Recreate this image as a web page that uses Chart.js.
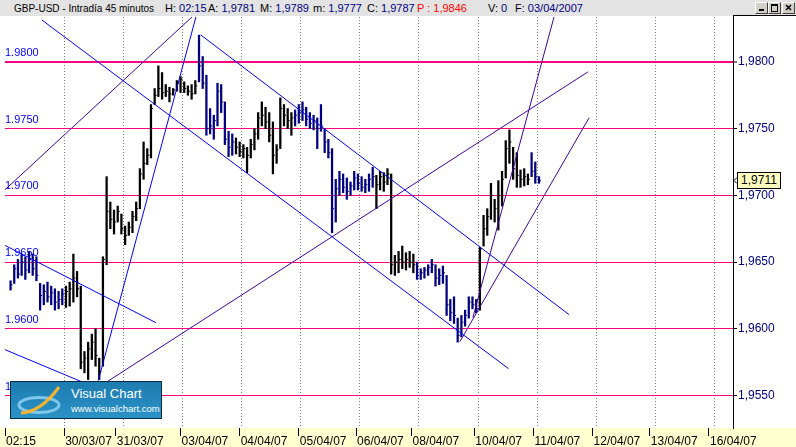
<!DOCTYPE html>
<html>
<head>
<meta charset="utf-8">
<script src="https://cdn.jsdelivr.net/npm/chart.js@4.4.0/dist/chart.umd.min.js"></script>
<style>
  body { margin: 0; background: #fff; }
  #wrap { position: relative; width: 796px; height: 447px; overflow: hidden; font-family: Arial, "Liberation Sans", sans-serif; }
  #titlebar { position: absolute; left: 0; top: 0; width: 796px; height: 16px; background: #e3e3e3; font-size: 11px; }
  #titlebar span { position: absolute; top: 2px; white-space: nowrap; color: #000; }
  #titlebar b { font-weight: normal; color: #000080; }
  #titlebar .red, #titlebar .red b { color: #ff0000; }
  .btn { position: absolute; top: 2px; width: 11px; height: 10px; border: 1px solid; border-color: #fff #404040 #404040 #fff; background: #d4d0c8; }
  #axisTop { position: absolute; left: 733px; top: 15px; width: 63px; height: 1px; background: #000; }
  #axisTopL { position: absolute; left: 733px; top: 15px; width: 1px; height: 3px; background: #000; }
  #logo { position: absolute; left: 10px; top: 381px; width: 150px; height: 36px; border: 1px solid #0b2c44;
          background: linear-gradient(to bottom, #1d7cb0, #2b92c6); color: #fff; }
  #logo .t1 { position: absolute; left: 60px; top: 4px; font-size: 13px; }
  #logo .t2 { position: absolute; left: 60px; top: 21px; font-size: 9.5px; }
  #lastPrice { position: absolute; left: 737px; top: 172px; width: 42px; height: 15px; line-height: 15px; border: 1px solid #000;
               background: #ffffc0; font-size: 12px; text-align: center; color: #000; }
</style>
</head>
<body>
<div id="wrap">
  <canvas id="chart" width="796" height="447"></canvas>
  <div id="titlebar">
    <span style="left:14px;font-size:10px;top:2.5px">GBP-USD - Intradía 45 minutos</span>
    <span style="left:165px">H: <b>02:15</b></span>
    <span style="left:208px">A: <b>1,9781</b></span>
    <span style="left:260px">M: <b>1,9789</b></span>
    <span style="left:313px">m: <b>1,9777</b></span>
    <span style="left:367px">C: <b>1,9787</b></span>
    <span class="red" style="left:417px">P : <b>1,9846</b></span>
    <span style="left:488px">V: <b>0</b></span>
    <span style="left:515px">F: <b>03/04/2007</b></span>
    <div class="btn" style="left:755px"><div style="position:absolute;left:3px;top:6px;width:5px;height:2px;background:#000"></div></div>
    <div class="btn" style="left:768px"><div style="position:absolute;left:2px;top:1px;width:5px;height:5px;border:1px solid #000;border-top-width:2px"></div></div>
    <div class="btn" style="left:782px"><svg width="11" height="10" style="position:absolute;left:0;top:0"><path d="M3 2 L8 7 M8 2 L3 7" stroke="#000" stroke-width="1.5"/></svg></div>
  </div>
  <div id="axisTop"></div>
  <div id="axisTopL"></div>
  <div id="logo">
    <svg width="58" height="36" style="position:absolute;left:0;top:0">
      <ellipse cx="28" cy="23" rx="20" ry="7.5" fill="none" stroke="#8fd0f4" stroke-width="3" opacity="0.85"/>
      <path d="M10 31 Q30 30 48 5" fill="none" stroke="#f2b431" stroke-width="3"/>
    </svg>
    <div class="t1">Visual Chart</div>
    <div class="t2">www.visualchart.com</div>
  </div>
  <svg width="5" height="7" style="position:absolute;left:733px;top:177px"><path d="M4 0.5 L1 3.5 L4 6.5" fill="none" stroke="#000" stroke-width="1"/></svg>
  <div id="lastPrice">1,9711</div>
</div>
<script>
// GBP-USD 45 min bars, one every other slot
const highs = [
  1.9636, 1.9648, 1.9652, 1.9656, 1.9654, 1.9658, 1.9656, 1.9654, 1.9634, 1.9633,
  1.9635, 1.9632, 1.9630, 1.9628, 1.9630, 1.9632, 1.9635, 1.9656, 1.9643, 1.9632,
  1.9583, 1.9590, 1.9596, 1.9600, 1.9578, 1.9654, 1.9714, 1.9695, 1.9689, 1.9692,
  1.9686, 1.9677, 1.9680, 1.9688, 1.9695, 1.9720, 1.9740, 1.9735, 1.9768, 1.9780,
  1.9797, 1.9792, 1.9783, 1.9781, 1.9780, 1.9786, 1.9789, 1.9785, 1.9782, 1.9783,
  1.9786, 1.9820, 1.9804, 1.9790, 1.9765, 1.9760, 1.9784, 1.9783, 1.9770, 1.9748,
  1.9746, 1.9743, 1.9740, 1.9738, 1.9736, 1.9742, 1.9750, 1.9762, 1.9770, 1.9766,
  1.9762, 1.9755, 1.9738, 1.9773, 1.9768, 1.9765, 1.9762, 1.9764, 1.9768, 1.9770,
  1.9766, 1.9762, 1.9760, 1.9758, 1.9768, 1.9750, 1.9742, 1.9735, 1.9712, 1.9718,
  1.9716, 1.9713, 1.9710, 1.9718, 1.9716, 1.9714, 1.9712, 1.9716, 1.9721, 1.9715,
  1.9718, 1.9717, 1.9720, 1.9716, 1.9655, 1.9658, 1.9662, 1.9657, 1.9658, 1.9656,
  1.9650, 1.9645, 1.9646, 1.9648, 1.9652, 1.9648, 1.9645, 1.9647, 1.9640, 1.9622,
  1.9624, 1.9608, 1.9610, 1.9614, 1.9624, 1.9624, 1.9622, 1.9661, 1.9685, 1.9690,
  1.9709, 1.9697, 1.9711, 1.9718, 1.9741, 1.9749, 1.9736, 1.9732, 1.9719, 1.9720,
  1.9716, 1.9732, 1.9725, 1.9714
];
const lows = [
  1.9629, 1.9634, 1.9638, 1.9640, 1.9637, 1.9642, 1.9640, 1.9636, 1.9614, 1.9618,
  1.9620, 1.9618, 1.9614, 1.9615, 1.9618, 1.9616, 1.9617, 1.9620, 1.9624, 1.9570,
  1.9567, 1.9562, 1.9577, 1.9572, 1.9562, 1.9572, 1.9648, 1.9675, 1.9671, 1.9680,
  1.9671, 1.9663, 1.9670, 1.9672, 1.9681, 1.9690, 1.9712, 1.9723, 1.9728, 1.9768,
  1.9774, 1.9772, 1.9774, 1.9770, 1.9775, 1.9778, 1.9777, 1.9777, 1.9775, 1.9772,
  1.9776, 1.9785, 1.9780, 1.9745, 1.9746, 1.9742, 1.9752, 1.9762, 1.9738, 1.9729,
  1.9730, 1.9731, 1.9729, 1.9728, 1.9717, 1.9728, 1.9734, 1.9742, 1.9752, 1.9750,
  1.9740, 1.9716, 1.9724, 1.9735, 1.9752, 1.9750, 1.9745, 1.9752, 1.9754, 1.9756,
  1.9752, 1.9750, 1.9749, 1.9735, 1.9748, 1.9732, 1.9728, 1.9672, 1.9680, 1.9700,
  1.9702, 1.9697, 1.9700, 1.9704, 1.9704, 1.9703, 1.9702, 1.9703, 1.9706, 1.9690,
  1.9704, 1.9703, 1.9708, 1.9641, 1.9640, 1.9642, 1.9645, 1.9644, 1.9646, 1.9642,
  1.9637, 1.9637, 1.9638, 1.9640, 1.9642, 1.9632, 1.9633, 1.9634, 1.9610, 1.9606,
  1.9604, 1.9590, 1.9594, 1.9602, 1.9608, 1.9615, 1.9612, 1.9614, 1.9662, 1.9670,
  1.9682, 1.9680, 1.9674, 1.9692, 1.9713, 1.9724, 1.9712, 1.9706, 1.9706, 1.9707,
  1.9708, 1.9714, 1.9709, 1.9709
];
const closes = [
  1.9633, 1.9645, 1.9641, 1.9650, 1.9644, 1.9652, 1.9645, 1.9640, 1.9625, 1.9628,
  1.9624, 1.9627, 1.9620, 1.9622, 1.9626, 1.9628, 1.9630, 1.9638, 1.9630, 1.9575,
  1.9578, 1.9585, 1.9590, 1.9580, 1.9568, 1.9652, 1.9688, 1.9682, 1.9680, 1.9688,
  1.9675, 1.9670, 1.9676, 1.9684, 1.9690, 1.9716, 1.9724, 1.9730, 1.9765, 1.9775,
  1.9780, 1.9777, 1.9778, 1.9776, 1.9779, 1.9784, 1.9787, 1.9780, 1.9778, 1.9776,
  1.9782, 1.9797, 1.9784, 1.9750, 1.9752, 1.9756, 1.9778, 1.9770, 1.9742, 1.9736,
  1.9740, 1.9736, 1.9733, 1.9735, 1.9730, 1.9738, 1.9746, 1.9758, 1.9760, 1.9755,
  1.9745, 1.9730, 1.9734, 1.9765, 1.9760, 1.9756, 1.9758, 1.9760, 1.9762, 1.9764,
  1.9757, 1.9754, 1.9756, 1.9750, 1.9752, 1.9740, 1.9732, 1.9690, 1.9705, 1.9712,
  1.9706, 1.9703, 1.9707, 1.9713, 1.9709, 1.9706, 1.9708, 1.9712, 1.9714, 1.9708,
  1.9714, 1.9710, 1.9716, 1.9648, 1.9650, 1.9652, 1.9650, 1.9652, 1.9650, 1.9648,
  1.9640, 1.9642, 1.9644, 1.9646, 1.9648, 1.9638, 1.9640, 1.9642, 1.9618, 1.9612,
  1.9610, 1.9595, 1.9605, 1.9610, 1.9620, 1.9618, 1.9615, 1.9660, 1.9675, 1.9684,
  1.9700, 1.9690, 1.9700, 1.9712, 1.9735, 1.9740, 1.9720, 1.9715, 1.9712, 1.9714,
  1.9712, 1.9718, 1.9714, 1.9711
];
// bar ranges drawn in navy instead of black
const navySpans = [[0, 14], [51, 60], [77, 98], [110, 126], [141, 143]];

// x axis is in 45 min slots
const firstSlot = 3, slotStep = 2, lastSlot = 394;
const dayTicks  = [0, 32, 60, 95, 127, 159, 190, 220, 254, 286, 318, 349, 381];
const dayLabels = ["02:15", "30/03/07", "31/03/07", "03/04/07", "04/04/07", "05/04/07", "06/04/07",
                   "08/04/07", "10/04/07", "11/04/07", "12/04/07", "13/04/07", "16/04/07"];
const gridSlots = [32, 64, 96, 128, 160, 192, 224, 256, 288, 320, 352, 384];
const priceTicks = [1.955, 1.96, 1.965, 1.97, 1.975, 1.98];
const priceMin = 1.95257, priceMax = 1.98336;

// trend lines: [slot, price] -> [slot, price]
const blue = "#0000ff", purple = "#4000a0";
const trendLines = [
  { from: [19.9, 1.98314], to: [272.5, 1.95702], color: blue },
  { from: [105.9, 1.98202], to: [305.3, 1.96106], color: blue },
  { from: [50.5, 1.95612], to: [104.8, 1.98412], color: blue },
  { from: [0, 1.96625], to: [81.7, 1.96046], color: blue },
  { from: [0, 1.95844], to: [64.5, 1.95470], color: blue },
  { from: [0, 1.97042], to: [105.4, 1.98390], color: purple },
  { from: [55.4, 1.95605], to: [315.5, 1.97925], color: purple },
  { from: [246.2, 1.95904], to: [316.1, 1.97581], color: purple },
  { from: [253.2, 1.96084], to: [298.9, 1.98427], color: purple }
];

const slots = highs.map((_, i) => firstSlot + i * slotStep);
const barColors = highs.map((_, i) =>
  navySpans.some(([a, b]) => i >= a && i <= b) ? "#000080" : "#000000");

const datasets = [
  {
    type: "bar",
    data: slots.map((s, i) => ({ x: s, y: [lows[i], highs[i]] })),
    backgroundColor: barColors,
    borderWidth: 0,
    barThickness: 1.6,
    grouped: false,
    order: 2
  },
  {
    type: "line",
    data: slots.map((s, i) => ({ x: s + 0.55, y: closes[i] })),
    showLine: false,
    pointStyle: "line",
    pointRadius: 1,
    pointBorderWidth: 1,
    pointBorderColor: barColors,
    order: 1
  }
];
trendLines.forEach(t => datasets.push({
  type: "line",
  data: [{ x: t.from[0], y: t.from[1] }, { x: t.to[0], y: t.to[1] }],
  borderColor: t.color,
  borderWidth: 1,
  pointRadius: 0,
  order: 0
}));

// yellow band under the time axis, blue level labels on the left
const decor = {
  id: "decor",
  beforeDraw(chart) {
    const { ctx, scales: { x } } = chart;
    ctx.save();
    ctx.fillStyle = "#ffffd0";
    ctx.fillRect(0, x.top, chart.width, chart.height - x.top);
    ctx.restore();
  },
  beforeDatasetsDraw(chart) {
    const { ctx, scales: { y } } = chart;
    ctx.save();
    ctx.fillStyle = "#0000ff";
    ctx.font = "11px Arial, 'Liberation Sans'";
    ctx.textBaseline = "middle";
    priceTicks.forEach(v => ctx.fillText(v.toFixed(4), 5, y.getPixelForValue(v) - 9));
    ctx.restore();
  }
};

new Chart(document.getElementById("chart"), {
  type: "bar",
  data: { datasets },
  plugins: [decor],
  options: {
    responsive: false,
    devicePixelRatio: 1,
    animation: false,
    events: [],
    layout: { padding: { top: 17, left: 0, right: 0, bottom: 0 } },
    plugins: { legend: { display: false }, tooltip: { enabled: false } },
    scales: {
      x: {
        type: "linear", position: "bottom", min: 0, max: lastSlot, offset: false,
        afterBuildTicks: s => { s.ticks = dayTicks.map(v => ({ value: v })); },
        afterFit: s => { s.height = 19; },
        grid: { offset: false, drawOnChartArea: false, drawTicks: true, tickLength: 8, tickColor: "#000", tickWidth: 1 },
        border: { display: false },
        ticks: {
          autoSkip: false, maxRotation: 0, align: "start", padding: -2,
          color: "#000", font: { family: "Arial, 'Liberation Sans'", size: 12 },
          callback: (v, i) => "\u200a" + dayLabels[i]
        }
      },
      xg: {
        type: "linear", position: "bottom", min: 0, max: lastSlot, offset: false,
        afterBuildTicks: s => { s.ticks = gridSlots.map(v => ({ value: v })); },
        afterFit: s => { s.height = 0; },
        grid: { offset: false, color: "#808080", drawTicks: false },
        border: { display: false, dash: [1, 2] },
        ticks: { display: false }
      },
      y: {
        type: "linear", position: "right", min: priceMin, max: priceMax,
        afterBuildTicks: s => { s.ticks = priceTicks.map(v => ({ value: v })); },
        afterFit: s => { s.width = 63; },
        grid: {
          color: "#ff0080",
          lineWidth: c => (c.tick && Math.abs(c.tick.value - 1.98) < 1e-9 ? 2 : 1),
          tickColor: "#000", tickLength: 4, tickWidth: 1
        },
        border: { display: true, color: "#000", width: 1 },
        ticks: {
          padding: 1, color: "#000080", font: { family: "Arial, 'Liberation Sans'", size: 12 },
          callback: v => v.toFixed(4).replace(".", ",")
        }
      }
    }
  }
});
</script>
</body>
</html>
